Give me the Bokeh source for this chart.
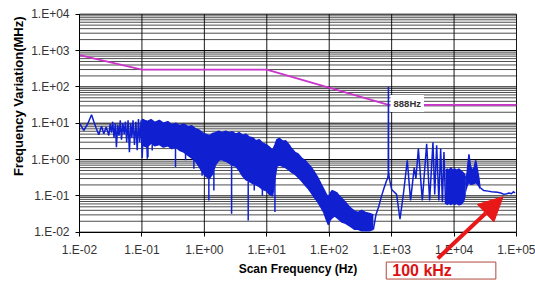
import math
from bokeh.plotting import figure
from bokeh.models import Range1d, FixedTicker, Label, Arrow, NormalHead
from bokeh.embed import file_html
from bokeh.resources import INLINE

# ---- axis ticks / labels ----
x_ticks = [0.01, 0.1, 1, 10, 100, 1000, 10000, 100000]
x_tick_labels = ["1.E-02", "1.E-01", "1.E+00", "1.E+01", "1.E+02", "1.E+03", "1.E+04", "1.E+05"]
y_ticks = [0.01, 0.1, 1, 10, 100, 1000, 10000]
y_tick_labels = ["1.E-02", "1.E-01", "1.E+00", "1.E+01", "1.E+02", "1.E+03", "1.E+04"]

# ---- magenta limit line ----
mag_freq = [0.01, 0.1, 10, 888, 100000]
mag_val = [750, 300, 300, 32, 32]

# ---- blue trace: sparse low-frequency part ----
left_freq = [0.0101, 0.0117, 0.0135, 0.0156, 0.0170, 0.0185, 0.0204, 0.0225, 0.0245, 0.0268,
             0.0295, 0.031, 0.0325, 0.034, 0.0357, 0.0375, 0.039, 0.041, 0.043, 0.045,
             0.047, 0.0495, 0.052, 0.0545, 0.057, 0.06, 0.063, 0.066, 0.069, 0.072,
             0.076, 0.08, 0.084, 0.088, 0.092, 0.097, 0.101, 0.106, 0.111, 0.117, 0.122]
left_val = [9.7, 6.3, 9.5, 17, 11, 7.3, 4.8, 8.3, 5.1, 7.8,
            4.6, 9.5, 5.5, 11, 4, 10, 2.2, 9, 4.5, 12,
            3.5, 10, 5, 11, 3, 12, 1.6, 10, 4, 12,
            2.5, 11, 1.8, 13, 3, 12, 1.1, 13, 2.5, 12, 1.05]

# ---- blue trace: dense noise band (0.1 Hz .. 510 Hz) ----
band_freq = [0.1, 0.12, 0.14, 0.16, 0.19, 0.22, 0.26, 0.3, 0.35, 0.4, 0.47, 0.55, 0.63, 0.72,
             0.82, 0.93, 1.05, 1.2, 1.35, 1.5, 1.7, 1.9, 2.2, 2.5, 2.8, 3.2, 3.6, 4.1, 4.6,
             5.2, 5.9, 6.7, 7.6, 8.6, 9.7, 11, 12.4, 13.5, 14.5, 16, 18, 20, 22.5, 25, 28,
             32, 36, 41, 46, 52, 58, 65, 73, 82, 90, 97, 104, 112, 122, 133, 145, 160, 178,
             200, 225, 255, 290, 330, 380, 440, 510]
band_upper = [13, 11, 12.5, 10.5, 12, 10, 11, 9, 10, 8.5, 9.5, 8, 8.5, 7,
              6.5, 5.5, 5, 4.5, 5.2, 5.5, 6, 5.5, 6, 5.5, 5.8, 5, 5.5, 4.6, 5,
              4.2, 4, 3.3, 3.5, 2.8, 2.6, 2.2, 1.8, 2.5, 3.5, 3.8, 3.2, 3.3, 2.6, 2.0, 1.6,
              1.4, 1.1, 0.95, 0.75, 0.6, 0.45, 0.33, 0.22, 0.15, 0.11, 0.09, 0.12, 0.14, 0.13,
              0.12, 0.1, 0.085, 0.07, 0.055, 0.045, 0.038, 0.035, 0.04, 0.035, 0.033, 0.03]
band_lower = [2.5, 2.2, 2.8, 2.4, 2.6, 2.2, 2.4, 2.0, 2.2, 1.8, 1.6, 1.3, 1.1, 0.9,
              0.65, 0.45, 0.35, 0.3, 0.4, 0.7, 0.95, 1.0, 0.9, 0.8, 0.7, 0.65, 0.5, 0.35, 0.28,
              0.25, 0.22, 0.2, 0.18, 0.15, 0.14, 0.11, 0.1, 0.3, 0.65, 0.7, 0.65, 0.6, 0.52, 0.45,
              0.4, 0.32, 0.26, 0.2, 0.16, 0.12, 0.09, 0.07, 0.05, 0.035, 0.022, 0.016, 0.022,
              0.025, 0.028, 0.025, 0.022, 0.019, 0.018, 0.016, 0.014, 0.012, 0.012, 0.011,
              0.011, 0.011, 0.012]

# ---- blue trace: downward spikes ----
spike_freq = [0.125, 0.146, 0.345, 0.5, 0.68, 0.92, 1.18, 1.42, 2.73, 5.04, 6.3, 8.5, 10.8, 13.5]
spike_top = [2.3, 2.5, 2.2, 1.6, 1.1, 0.5, 0.3, 0.5, 0.7, 0.25, 0.21, 0.16, 0.13, 0.3]
spike_low = [1.16, 1.78, 0.62, 0.95, 0.56, 0.36, 0.075, 0.14, 0.032, 0.021, 0.14, 0.1, 0.11, 0.036]

# ---- blue trace: resonance part (510 Hz .. 7.3 kHz) ----
right_freq = [510, 560, 620, 690, 760, 820, 860, 882, 888, 894, 920, 1000, 1200, 1360, 1550,
              1780, 2010, 2300, 2450, 2680, 3100, 3640, 4060, 4590, 4900, 5260, 5700, 6100,
              6500, 6890, 7300]
right_val = [0.012, 0.03, 0.05, 0.1, 0.17, 0.25, 0.3, 0.4, 100, 0.45, 0.3, 0.15, 0.11, 0.023, 0.12,
             0.95, 0.075, 0.6, 0.3, 2.0, 0.075, 2.7, 0.075, 3.0, 0.11, 2.45, 0.075, 2.0,
             0.067, 1.6, 0.06]

# ---- blue trace: dense band 7.3 kHz .. 15.4 kHz ----
band2_freq = [7300, 7800, 8300, 8900, 9500, 10200, 11000, 11800, 12700, 13600, 14600, 15400]
band2_upper = [0.5, 0.55, 0.5, 0.6, 0.5, 0.55, 0.5, 0.55, 0.5, 0.45, 0.4, 0.3]
band2_lower = [0.06, 0.055, 0.06, 0.054, 0.06, 0.055, 0.06, 0.054, 0.055, 0.06, 0.07, 0.1]

# ---- blue trace: bumps 15.4 kHz .. 26 kHz ----
band3_freq = [15400, 16500, 17300, 18200, 19500, 21000, 22200, 23500, 25000, 26000]
band3_upper = [0.2, 0.6, 1.4, 0.7, 0.5, 0.6, 0.95, 0.55, 0.3, 0.17]
band3_lower = [0.12, 0.18, 0.22, 0.2, 0.2, 0.21, 0.22, 0.2, 0.17, 0.15]

# ---- blue trace: high-frequency tail ----
tail_freq = [26000, 30000, 35000, 40000, 49400, 56000, 63000, 70000, 76000, 83000, 89000, 95000]
tail_val = [0.17, 0.14, 0.135, 0.13, 0.125, 0.12, 0.11, 0.115, 0.12, 0.115, 0.13, 0.12]

BLUE = "#1020d0"
MAG = "#cc33cc"
RED = "#e81818"
FONT = "Liberation Sans"

# layout: the plotting frame covers the whole canvas, the chart area sits inside it
W, H = 535, 282
PL, PR, PT, PB = 79, 516, 13.7, 231.7          # chart area in pixels
XLO, XHI, YLO, YHI = 0.01, 100000, 0.01, 10000
dx = (PR - PL) / (math.log10(XHI) - math.log10(XLO))
dy = (PB - PT) / (math.log10(YHI) - math.log10(YLO))
x_range = Range1d(10 ** (math.log10(XLO) - PL / dx), 10 ** (math.log10(XHI) + (W - PR) / dx))
y_range = Range1d(10 ** (math.log10(YLO) - (H - PB) / dy), 10 ** (math.log10(YHI) + PT / dy))

p = figure(width=W, height=H, x_axis_type="log", y_axis_type="log",
           x_range=x_range, y_range=y_range,
           output_backend="svg", toolbar_location=None,
           min_border=0)
p.outline_line_color = None
p.background_fill_color = "white"
p.border_fill_color = "white"
p.grid.visible = False

y_minor = [m * 10.0 ** e for e in range(-2, 4) for m in range(2, 10)]
p.xaxis.ticker = FixedTicker(ticks=x_ticks, minor_ticks=[])
p.yaxis.ticker = FixedTicker(ticks=y_ticks, minor_ticks=y_minor)
p.xaxis.major_label_overrides = dict(zip(x_ticks, x_tick_labels))
p.yaxis.major_label_overrides = dict(zip(y_ticks, y_tick_labels))
p.xaxis.fixed_location = YLO
p.yaxis.fixed_location = XLO
p.xaxis.bounds = (XLO, XHI)
p.yaxis.bounds = (YLO, YHI)

for ax in (p.xaxis[0], p.yaxis[0]):
    ax.axis_line_color = "black"
    ax.major_tick_line_color = "black"
    ax.major_tick_out = 4
    ax.major_tick_in = 0
    ax.minor_tick_line_color = None
    ax.major_label_text_font = FONT
    ax.major_label_text_font_size = "12px"
    ax.major_label_text_color = "#333333"
    ax.axis_label_text_font = FONT
    ax.axis_label_text_font_style = "bold"
    ax.axis_label_text_color = "black"
p.xaxis.major_label_standoff = 7
p.yaxis.major_label_standoff = 6
p.xaxis.axis_label = "Scan Frequency (Hz)"
p.xaxis.axis_label_text_font_size = "12px"
p.xaxis.axis_label_standoff = 1

# grid lines limited to the chart area
gy_minor = [v for v in y_minor if YLO <= v <= YHI]
p.segment(x0=[XLO] * len(gy_minor), y0=gy_minor, x1=[XHI] * len(gy_minor), y1=gy_minor,
          line_color="#222222", line_alpha=0.8, line_width=1, level="underlay")
p.segment(x0=[XLO] * len(y_ticks), y0=y_ticks, x1=[XHI] * len(y_ticks), y1=y_ticks,
          line_color="black", line_width=1, level="underlay")
p.segment(x0=x_ticks, y0=[YLO] * len(x_ticks), x1=x_ticks, y1=[YHI] * len(x_ticks),
          line_color="black", line_alpha=0.9, line_width=1, level="underlay")

# y axis title
p.add_layout(Label(x=0.00105, y=55, text="Frequency Variation(MHz)", angle=math.pi / 2,
                   text_font=FONT, text_font_size="13px", text_font_style="bold",
                   text_color="black", text_align="center", text_baseline="middle"))

# magenta limit line
p.line(mag_freq, mag_val, line_color=MAG, line_width=1.8)

# blue trace
p.line(left_freq, left_val, line_color=BLUE, line_width=1.5)
p.varea(x=band_freq, y1=band_lower, y2=band_upper, fill_color=BLUE)
p.line(band_freq, band_upper, line_color=BLUE, line_width=1.5)
p.line(band_freq, band_lower, line_color=BLUE, line_width=1.5)
p.segment(x0=spike_freq, y0=spike_top, x1=spike_freq, y1=spike_low, line_color=BLUE, line_width=1.5)
p.line(right_freq, right_val, line_color=BLUE, line_width=1.5)
p.varea(x=band2_freq, y1=band2_lower, y2=band2_upper, fill_color=BLUE)
p.line(band2_freq, band2_upper, line_color=BLUE, line_width=1.5)
p.varea(x=band3_freq, y1=band3_lower, y2=band3_upper, fill_color=BLUE)
p.line(band3_freq, band3_upper, line_color=BLUE, line_width=1.5)
p.line(tail_freq, tail_val, line_color=BLUE, line_width=1.5)

# 888Hz label
p.add_layout(Label(x=960, y=35, text="888Hz", text_font=FONT, text_font_size="9.5px",
                   text_font_style="bold", text_color="#333333", text_baseline="middle",
                   background_fill_color="white", padding=3))

# red arrow and 100 kHz callout
p.add_layout(Arrow(x_start=5500, y_start=0.0019, x_end=61000, y_end=0.095,
                   line_color=RED, line_width=4,
                   end=NormalHead(size=24, fill_color=RED, line_color=RED)))
p.add_layout(Label(x=820, y=0.00088, text="100 kHz", text_font=FONT, text_font_size="16px",
                   text_font_style="bold", text_color="#dd1111", text_baseline="middle",
                   background_fill_color="white", border_line_color="#b04a3a",
                   border_line_width=1,
                   padding=dict(left=6, right=44, top=0, bottom=0)))

open("out.html", "w").write(file_html(p, INLINE))
